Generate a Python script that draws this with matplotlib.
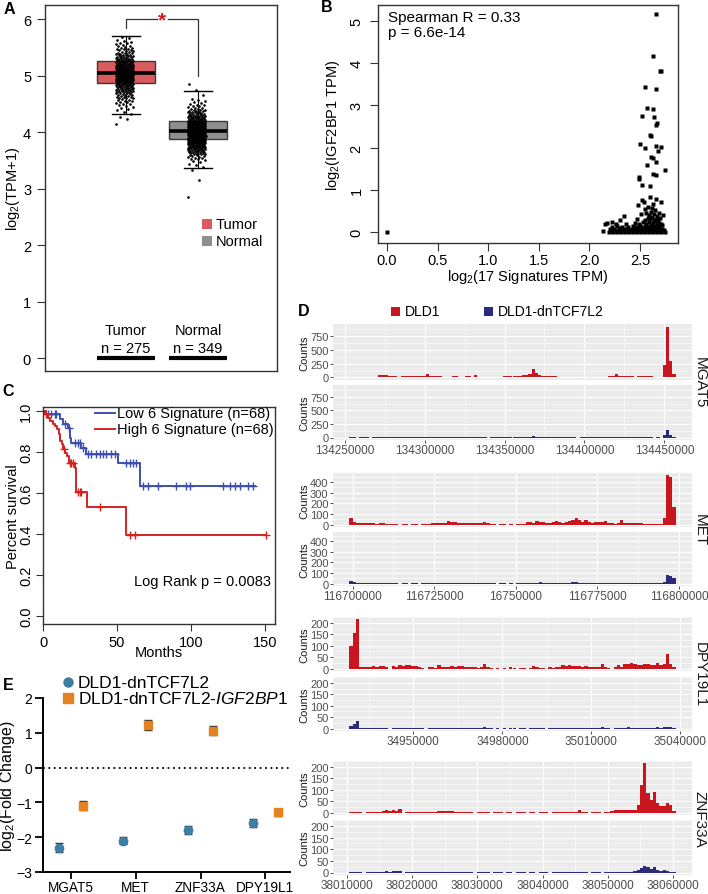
import matplotlib
matplotlib.use('Agg')
import matplotlib.pyplot as plt
import numpy as np
from matplotlib.lines import Line2D
from matplotlib.patches import Rectangle

plt.rcParams['font.family'] = ['Liberation Sans', 'DejaVu Sans']
plt.rcParams['mathtext.fontset'] = 'custom'
plt.rcParams['mathtext.rm'] = 'Liberation Sans'
plt.rcParams['mathtext.it'] = 'Liberation Sans:italic'
plt.rcParams['mathtext.bf'] = 'Liberation Sans:bold'
plt.rcParams['mathtext.default'] = 'regular'

# ======================= DATA =======================
# ---- Panel A: expression box plot ----
groups_A = ['Tumor', 'Normal']
n_A = [275, 349]
box_A = [[4.32, 4.87, 5.05, 5.25, 5.70],      # whislo, q1, median, q3, whishi
         [3.36, 3.87, 4.02, 4.20, 4.72]]
hist_bin_A = 0.1
tumor_hist_start = 4.1
tumor_hist = [1, 2, 3, 6, 10, 15, 22, 30, 38, 40, 36, 28, 20, 12, 8, 4]
normal_hist_start = 2.8
normal_hist = [1, 0, 0, 1, 0, 2, 4, 10, 22, 35, 50, 58, 55, 45, 30, 18, 10, 5, 1, 1, 1]

# ---- Panel B: correlation scatter ----
spearman_text = ['Spearman R = 0.33', 'p = 6.6e-14']
b_high_x = [2.66, 2.63, 2.70, 2.71, 2.55, 2.66, 2.57, 2.63, 2.52, 2.64, 2.67, 2.66, 2.60, 2.61,
            2.50, 2.55, 2.66, 2.71, 2.68, 2.61, 2.63, 2.66, 2.57, 2.75, 2.63, 2.66, 2.49, 2.49,
            2.52, 2.60, 2.60, 2.52, 2.54, 2.71, 2.66, 2.48, 2.63, 2.34, 2.17, 2.22, 2.73, 2.13, 0.00]
b_high_y = [5.17, 4.17, 3.81, 3.81, 3.43, 3.38, 2.94, 2.92, 2.75, 2.72, 2.59, 2.53, 2.31, 2.27,
            2.08, 1.99, 2.05, 2.02, 1.92, 1.77, 1.75, 1.66, 1.58, 1.48, 1.38, 1.34, 1.30, 1.26,
            1.12, 1.09, 0.83, 0.75, 0.71, 0.71, 0.79, 0.63, 0.67, 0.39, 0.21, 0.24, 0.41, 0.02, 0.00]
b_band = [(2.19, 0.01), (2.21, 0.03), (2.23, 0.0), (2.25, 0.02), (2.27, 0.01), (2.29, 0.03), (2.31, 0.0),
          (2.33, 0.02), (2.35, 0.01), (2.37, 0.03), (2.39, 0.0), (2.41, 0.02), (2.43, 0.01), (2.45, 0.03),
          (2.47, 0.0), (2.49, 0.02), (2.51, 0.01), (2.53, 0.03), (2.55, 0.0), (2.57, 0.02), (2.59, 0.01),
          (2.61, 0.03), (2.63, 0.0), (2.65, 0.02), (2.67, 0.01), (2.69, 0.03), (2.71, 0.0), (2.73, 0.02),
          (2.75, 0.01), (2.20, 0.06), (2.24, 0.08), (2.28, 0.05), (2.30, 0.09), (2.34, 0.06), (2.36, 0.08),
          (2.40, 0.05), (2.42, 0.07), (2.44, 0.09), (2.46, 0.06), (2.48, 0.08), (2.50, 0.05), (2.52, 0.07),
          (2.54, 0.09), (2.56, 0.06), (2.58, 0.08), (2.60, 0.05), (2.62, 0.07), (2.64, 0.09), (2.66, 0.06),
          (2.68, 0.08), (2.70, 0.05), (2.72, 0.07), (2.74, 0.04), (2.22, 0.12), (2.27, 0.14), (2.32, 0.11),
          (2.38, 0.13), (2.43, 0.15), (2.47, 0.12), (2.50, 0.14), (2.53, 0.11), (2.56, 0.16), (2.58, 0.13),
          (2.60, 0.11), (2.62, 0.15), (2.64, 0.12), (2.66, 0.14), (2.68, 0.11), (2.70, 0.13), (2.72, 0.16),
          (2.15, 0.18), (2.26, 0.20), (2.36, 0.18), (2.45, 0.22), (2.49, 0.19), (2.53, 0.24), (2.56, 0.20),
          (2.59, 0.23), (2.61, 0.18), (2.63, 0.21), (2.65, 0.25), (2.67, 0.19), (2.69, 0.22), (2.71, 0.18),
          (2.30, 0.29), (2.47, 0.30), (2.55, 0.28), (2.58, 0.33), (2.60, 0.30), (2.62, 0.35), (2.64, 0.28),
          (2.66, 0.32), (2.68, 0.29), (2.70, 0.34), (2.51, 0.42), (2.56, 0.46), (2.59, 0.40), (2.61, 0.48),
          (2.64, 0.43), (2.67, 0.38), (2.69, 0.45), (2.55, 0.55), (2.62, 0.58), (2.65, 0.53), (2.58, 0.60)]

# ---- Panel C: Kaplan-Meier ----
km_labels = ['Low 6 Signature (n=68)', 'High 6 Signature (n=68)']
low_t = [0, 2.3, 11.3, 13.5, 16.9, 18.0, 19.2, 25.9, 28.9, 50.8, 65.4]
low_s = [1.0, 0.985, 0.96, 0.935, 0.915, 0.87, 0.845, 0.82, 0.79, 0.745, 0.634]
low_end = 143.2
low_cens = [3.4, 5.6, 7.9, 9.0, 14.7, 17.4, 21.4, 23.7, 24.8, 27.0, 30.5, 32.7, 36.0, 38.3, 40.6,
            42.9, 46.2, 48.5, 56.4, 58.6, 60.9, 63.2, 67.7, 71.0, 77.8, 90.2, 97.0, 99.3, 121.8,
            126.3, 129.7, 133.1, 138.7, 142.1]
high_t = [0, 1.1, 3.4, 4.5, 6.8, 7.9, 9.5, 10.8, 11.7, 12.6, 13.5, 15.1, 16.2, 17.6, 21.4, 22.1,
          22.6, 29.8, 55.9]
high_s = [1.0, 0.984, 0.967, 0.951, 0.935, 0.927, 0.911, 0.886, 0.854, 0.837, 0.816, 0.797, 0.78,
          0.745, 0.724, 0.675, 0.605, 0.533, 0.397]
high_end = 151.1
high_cens = [2.3, 14.5, 18.0, 19.2, 20.3, 23.7, 24.8, 25.9, 38.3, 58.6, 62.0, 151.1]
logrank_text = 'Log Rank p = 0.0083'

# ---- Panel D: read count tracks ----
D_genes = ['MGAT5', 'MET', 'DPY19L1', 'ZNF33A']
D_legend = ['DLD1', 'DLD1-dnTCF7L2']
D_start = [134253000, 116699000, 34928400, 38010400]
D_binw = [2000, 1000, 1100, 500]
mgat5_dld1 = [12, 10, 0, 8, 10, 6, 0, 5, 15,
              40, 45, 42, 30,
              20, 18, 15, 20, 25, 22, 20, 18, 25, 20, 22,
              55,
              25, 20, 18, 22, 15, 12, 15, 18, 20, 15, 12, 18, 20, 15,
              45,
              15, 10, 12, 0, 8, 12, 15, 10,
              20, 25, 22, 25, 30, 35, 40, 50, 70,
              160,
              80, 45, 35, 30, 28, 25, 20,
              15, 12, 10, 15, 12, 10, 0, 8, 10, 12, 15, 10, 12, 10, 15, 12, 20, 25,
              55, 30,
              20, 22, 18, 20, 15, 22, 18, 20, 25, 22, 0, 10, 0,
              225, 920, 290, 60]
mgat5_dn = [4, 3, 0, 3, 4, 3, 0, 3, 5,
            6, 8, 7, 5,
            4, 4, 3, 4, 5, 4, 4, 3, 5, 4, 4,
            12,
            5, 4, 3, 5, 3, 3, 4, 4, 5, 3, 3, 4, 4, 3,
            8,
            3, 3, 3, 0, 3, 3, 4, 3,
            4, 5, 4, 5, 6, 6, 8, 8, 12,
            22,
            12, 8, 6, 6, 5, 5, 4,
            3, 3, 3, 3, 3, 3, 0, 3, 3, 3, 3, 3, 3, 3, 3, 3, 4, 5,
            14, 6,
            4, 5, 4, 4, 3, 5, 4, 4, 5, 5, 0, 3, 0,
            40, 140, 45, 10]
met_dld1 = [65, 20,
            15, 12, 12, 10, 12, 10, 8, 12, 10, 8, 6,
            5, 3, 0, 4, 2, 0, 3, 5, 0, 4, 3, 5,
            12, 15, 14, 12, 15,
            30, 28, 25,
            18, 15, 12, 14, 15, 12, 10, 18, 25, 12,
            5, 3, 0, 4, 2, 0, 3, 0, 2, 5, 4,
            20, 25, 15, 30, 28, 20, 18, 15, 20, 30,
            20, 18, 25, 35, 45, 60, 40, 20, 40,
            20, 18, 22, 25, 20, 30,
            10, 12, 8, 10, 40,
            15, 12, 15, 10, 12, 15,
            5, 4, 5, 3, 5, 8,
            65, 460, 450, 160]
met_dn = [25, 10,
          4, 3, 3, 3, 3, 3, 3, 3, 3, 3, 3,
          2, 2, 0, 2, 2, 0, 2, 2, 0, 2, 2, 2,
          4, 4, 5, 4, 5,
          8, 7, 6,
          4, 4, 3, 4, 4, 3, 3, 5, 6, 3,
          2, 2, 0, 2, 2, 0, 2, 0, 2, 3, 3,
          5, 6, 4, 8, 10, 6, 5, 4, 5, 7,
          5, 5, 6, 8, 10, 12, 8, 5, 8,
          5, 5, 6, 5, 5, 7,
          3, 3, 3, 3, 8,
          4, 3, 4, 3, 3, 4,
          2, 2, 2, 2, 3, 5,
          12, 80, 70, 55]
dpy_dld1 = [100, 155, 215,
            8, 8, 8, 8, 10, 8, 10,
            12, 5, 0, 10, 8,
            15, 12, 14, 15, 12, 10,
            5, 4, 0, 6, 5, 4,
            15,
            8, 6, 5, 10, 8, 10, 10, 8, 5, 6, 5, 4, 5,
            22,
            5, 4, 0, 3, 0, 4, 0, 5, 3, 0, 4, 3, 0, 4,
            10,
            5, 3, 4, 0, 5, 4, 6, 8,
            15, 12, 15, 12, 12, 10, 8, 10, 8, 8, 6, 8,
            22,
            5, 4, 0, 5,
            15,
            8, 20, 22,
            25, 20, 15, 15, 18, 18, 15, 15,
            25, 15, 20, 62, 20, 5]
dpy_dn = [10, 22, 32,
          3, 3, 3, 3, 3, 3, 3,
          3, 2, 0, 3, 3,
          4, 3, 3, 4, 3, 3,
          2, 2, 0, 2, 2, 2,
          4,
          2, 2, 2, 3, 2, 3, 3, 2, 2, 2, 2, 2, 2,
          5,
          2, 2, 0, 2, 0, 2, 0, 2, 2, 0, 2, 2, 0, 2,
          3,
          2, 2, 2, 0, 2, 2, 3, 3,
          4, 4, 4, 3, 3, 3, 3, 3, 3, 3, 3, 3,
          5,
          2, 2, 0, 2,
          4,
          3, 4, 5,
          4, 4, 3, 3, 4, 4, 3, 4,
          5, 4, 5, 8, 5, 2]
znf_dld1 = [3, 3, 4, 3, 0, 3, 3, 4, 3, 3,
            8, 10, 8, 9, 8, 16,
            0,
            3, 3, 4, 3, 3, 4, 3, 3, 3, 4,
            6, 8, 7, 6, 5,
            4, 4, 3, 4, 4, 3, 0, 3, 3, 3, 4, 0, 3, 3, 3, 0, 2, 3, 0, 3, 3, 4, 0, 3, 3,
            0, 3, 3, 3, 0, 3, 3, 3, 4, 3, 3, 3, 3,
            9,
            3, 3, 0, 3, 3, 3, 0, 3, 3,
            8, 10, 10, 12, 12, 10, 12,
            12, 35, 120, 215, 85, 55, 90, 40, 28, 30, 40, 35, 5]
znf_dn = [2, 2, 2, 2, 0, 2, 2, 2, 2, 2,
          4, 5, 4, 6, 5, 7,
          0,
          2, 2, 2, 2, 2, 2, 2, 2, 2, 2,
          3, 4, 3, 3, 3,
          2, 2, 2, 2, 2, 2, 0, 2, 2, 2, 2, 0, 2, 2, 2, 0, 2, 2, 0, 2, 2, 2, 0, 2, 2,
          0, 2, 2, 2, 0, 2, 2, 2, 2, 2, 2, 2, 2,
          4,
          2, 2, 0, 2, 2, 2, 0, 2, 2,
          3, 3, 3, 4, 4, 3, 4,
          5, 12, 20, 28, 22, 15, 25, 12, 8, 10, 6, 4, 2]
D_dld1 = [mgat5_dld1, met_dld1, dpy_dld1, znf_dld1]
D_dn = [mgat5_dn, met_dn, dpy_dn, znf_dn]
D_xticks = [[134250000, 134300000, 134350000, 134400000, 134450000],
            [116700000, 116725000, 116750000, 116775000, 116800000],
            [34950000, 34980000, 35010000, 35040000],
            [38010000, 38020000, 38030000, 38040000, 38050000, 38060000]]
D_xticklabels = [['134250000', '134300000', '134350000', '134400000', '134450000'],
                 ['116700000', '116725000', '16750000', '116775000', '116800000'],
                 ['34950000', '34980000', '35010000', '35040000'],
                 ['38010000', '38020000', '38030000', '38040000', '38050000', '38060000']]
D_yticks = [[0, 250, 500, 750], [0, 100, 200, 300, 400], [0, 50, 100, 150, 200], [0, 50, 100, 150, 200]]

# ---- Panel E: fold change ----
genes_E = ['MGAT5', 'MET', 'ZNF33A', 'DPY19L1']
E_labels = ['DLD1-dnTCF7L2', r'DLD1-dnTCF7L2-$\it{IGF2BP1}$']
dn_fc = [-2.3, -2.1, -1.8, -1.6]
dn_err = [0.13, 0.10, 0.11, 0.12]
igf_fc = [-1.1, 1.22, 1.06, -1.29]
igf_err = [0.13, 0.15, 0.13, 0.11]

# ======================= FIGURE =======================
W, H = 708, 895
fig = plt.figure(figsize=(W / 100, H / 100), dpi=100)


def rect(l, t, r, b):
    return [l / W, 1 - b / H, (r - l) / W, (b - t) / H]


def fx(x):
    return x / W


def fy(y):
    return 1 - y / H


def ylabel_at(ax, xpx):
    pos = ax.get_position()
    ax.yaxis.label.set_va('center')
    ax.yaxis.set_label_coords(fx(xpx), (pos.y0 + pos.y1) / 2, transform=fig.transFigure)


def xlabel_at(ax, ypx):
    pos = ax.get_position()
    ax.xaxis.label.set_va('center')
    ax.xaxis.set_label_coords((pos.x0 + pos.x1) / 2, fy(ypx), transform=fig.transFigure)


def panel_letter(x, y, s):
    fig.text(fx(x), fy(y), s, fontsize=11.5, fontweight='bold', ha='center', va='center')


frame_col = '#333333'

# ---------------- Panel A ----------------
axA = fig.add_axes(rect(45, 6, 277, 372))
tumor_col, normal_col = '#d95b60', '#8e8e8e'
stats = [dict(whislo=s[0], q1=s[1], med=s[2], q3=s[3], whishi=s[4], fliers=[]) for s in box_A]
bp = axA.bxp(stats, positions=[1, 2], widths=0.8, patch_artist=True, showfliers=False, capwidths=0.4,
             boxprops=dict(edgecolor='#3a3a3a', linewidth=1.0),
             medianprops=dict(color='black', linewidth=2.6, zorder=5),
             whiskerprops=dict(color='black', linewidth=0.8),
             capprops=dict(color='black', linewidth=1.0))
for patch, c in zip(bp['boxes'], [tumor_col, normal_col]):
    patch.set_facecolor(c)

golden = 0.6180339887
for pos, start, counts in [(1, tumor_hist_start, tumor_hist), (2, normal_hist_start, normal_hist)]:
    xs, ys = [], []
    i = 0
    for b, c in enumerate(counts):
        for k in range(c):
            ys.append(start + b * hist_bin_A + (k + 0.5) / c * hist_bin_A)
            xs.append(pos - 0.02 + 0.125 * (2 * ((i * golden) % 1) - 1))
            i += 1
    axA.plot(xs, ys, 'o', ms=1.9, color='black', mec='none', zorder=3)

# significance bracket
axA.plot([1, 1, 1.43], [5.84, 6.0, 6.0], color='#333333', lw=0.9)
axA.plot([1.58, 2, 2], [6.0, 6.0, 4.99], color='#333333', lw=0.9)
axA.text(1.505, 5.98, '*', color='#d7191c', fontsize=15, ha='center', va='center', fontweight='bold')

for pos in [1, 2]:
    axA.plot([pos - 0.4, pos + 0.4], [0, 0], color='black', lw=3, solid_capstyle='butt')

axA.set_xticks([])
axA.set_yticks(range(0, 7))
axA.set_xlim(-0.125, 3.097)
axA.set_ylim(-0.23, 6.25)
axA.tick_params(axis='y', labelsize=10.5, length=6, width=0.8, color=frame_col, pad=4)
for sp in axA.spines.values():
    sp.set_color(frame_col)
    sp.set_linewidth(1.0)
axA.set_ylabel(r'log$_2$(TPM+1)', fontsize=10.5)
ylabel_at(axA, 13)

for x, g, n in [(126, groups_A[0], n_A[0]), (198, groups_A[1], n_A[1])]:
    fig.text(fx(x), fy(331), g, fontsize=10.5, ha='center', va='center')
    fig.text(fx(x), fy(349), 'n = %d' % n, fontsize=10.5, ha='center', va='center')

for yy, c, g in [(225, tumor_col, groups_A[0]), (242, normal_col, groups_A[1])]:
    fig.add_artist(Rectangle((fx(202), fy(yy + 5)), 10 / W, 10 / H, transform=fig.transFigure,
                             facecolor=c, edgecolor='none'))
    fig.text(fx(216), fy(yy), g, fontsize=10.5, ha='left', va='center')
panel_letter(9, 9, 'A')

# ---------------- Panel B ----------------
axB = fig.add_axes(rect(378, 6, 678, 244))
bx = list(b_high_x) + [p[0] for p in b_band]
by = list(b_high_y) + [p[1] for p in b_band]
axB.plot(bx, by, 's', ms=2.3, color='black', mec='none')
axB.set_xticks([0, 0.5, 1.0, 1.5, 2.0, 2.5])
axB.set_xticklabels(['0.0', '0.5', '1.0', '1.5', '2.0', '2.5'])
axB.set_yticks(range(0, 6))
axB.set_xlim(-0.089, 2.875)
axB.set_ylim(-0.26, 5.38)
axB.tick_params(axis='both', labelsize=10.5, length=5.5, width=0.8, color=frame_col)
axB.tick_params(axis='x', pad=2)
axB.tick_params(axis='y', pad=5, labelrotation=90)
for tl in axB.get_yticklabels():
    tl.set_va('center')
for sp in axB.spines.values():
    sp.set_color(frame_col)
    sp.set_linewidth(1.0)
axB.set_xlabel(r'log$_2$(17 Signatures TPM)', fontsize=10.5)
axB.set_ylabel(r'log$_2$(IGF2BP1 TPM)', fontsize=10.5)
xlabel_at(axB, 277)
ylabel_at(axB, 333)
fig.text(fx(388), fy(18), spearman_text[0], fontsize=11, ha='left', va='center')
fig.text(fx(388), fy(33), spearman_text[1], fontsize=11, ha='left', va='center')
panel_letter(327, 8, 'B')

# ---------------- Panel C ----------------
axC = fig.add_axes(rect(43, 408, 275, 625))
low_col, high_col = '#3d4fae', '#d42222'


def surv_at(ts, ss, t):
    idx = np.searchsorted(ts, t, side='right') - 1
    return ss[idx]


for ts, ss, end, cens, col in [(low_t, low_s, low_end, low_cens, low_col),
                               (high_t, high_s, high_end, high_cens, high_col)]:
    axC.step(list(ts) + [end], list(ss) + [ss[-1]], where='post', color=col, lw=1.4)
    cy = [surv_at(ts, ss, t) for t in cens]
    axC.plot(cens, cy, '+', color=col, ms=6, mew=1.0)

axC.set_xticks([0, 50, 100, 150])
axC.set_yticks([0.0, 0.2, 0.4, 0.6, 0.8, 1.0])
axC.set_yticklabels(['0.0', '0.2', '0.4', '0.6', '0.8', '1.0'])
axC.set_xlim(0, 157)
axC.set_ylim(-0.04, 1.02)
axC.tick_params(axis='both', labelsize=10.5, length=5, width=0.8, color=frame_col)
axC.tick_params(axis='y', labelrotation=90, pad=2)
axC.tick_params(axis='x', pad=3)
for tl in axC.get_yticklabels():
    tl.set_va('center')
for sp in axC.spines.values():
    sp.set_color(frame_col)
    sp.set_linewidth(1.0)
axC.set_xlabel('Months', fontsize=10.5)
axC.set_ylabel('Percent survival', fontsize=10.5)
xlabel_at(axC, 653)
ylabel_at(axC, 13)
for yy, col, lab in [(414, low_col, km_labels[0]), (430, high_col, km_labels[1])]:
    fig.add_artist(Line2D([fx(95), fx(115)], [fy(yy), fy(yy)], color=col, lw=1.4,
                          transform=fig.transFigure))
    fig.text(fx(117), fy(yy), lab, fontsize=10.5, ha='left', va='center')
fig.text(fx(271), fy(582), logrank_text, fontsize=10.5, ha='right', va='center')
panel_letter(8, 392, 'C')

# ---------------- Panel D ----------------
red_col, navy_col = '#c9151e', '#2b2a7c'
D_rows = [((325, 381), (386, 441)), ((474, 528), (533, 587)),
          ((618, 672), (678, 732)), ((762, 816), (821, 876))]
for gi, gene in enumerate(D_genes):
    start, bw = D_start[gi], D_binw[gi]
    tracks = [D_dld1[gi], D_dn[gi]]
    nb = max(len(t) for t in tracks)
    x_lo, x_hi = start, start + nb * bw
    rng = x_hi - x_lo
    ymax = max(max(t) for t in tracks)
    ticks = D_xticks[gi]
    step = ticks[1] - ticks[0]
    minor_x = [ticks[0] - step / 2 + k * step for k in range(len(ticks) + 2)]
    ystep = D_yticks[gi][1] - D_yticks[gi][0]
    minor_y = [D_yticks[gi][0] + ystep / 2 + k * ystep for k in range(len(D_yticks[gi]))]
    for ti, (counts, col) in enumerate(zip(tracks, [red_col, navy_col])):
        (t, b) = D_rows[gi][ti]
        ax = fig.add_axes(rect(333, t, 692, b))
        ax.set_facecolor('#ebebeb')
        edges = [start + k * bw for k in range(len(counts))]
        ax.bar(edges, counts, width=bw, align='edge', color=col, linewidth=0, zorder=3)
        ax.set_xticks(ticks)
        ax.set_xticks(minor_x, minor=True)
        ax.set_yticks(D_yticks[gi])
        ax.set_yticks(minor_y, minor=True)
        ax.set_xlim(x_lo - 0.05 * rng, x_hi + 0.05 * rng)
        ax.set_ylim(-0.05 * ymax, 1.05 * ymax)
        ax.grid(which='major', color='white', lw=0.8, zorder=0)
        ax.grid(which='minor', color='white', lw=0.4, zorder=0)
        ax.set_axisbelow(True)
        for sp in ax.spines.values():
            sp.set_visible(False)
        ax.tick_params(which='minor', length=0)
        ax.tick_params(axis='y', labelsize=8, length=2.2, width=0.6, color='#333333',
                       labelcolor='#4d4d4d', pad=1)
        if ti == 1:
            ax.set_xticklabels(D_xticklabels[gi])
            ax.tick_params(axis='x', labelsize=8.5, length=2.2, width=0.6, color='#333333',
                           labelcolor='#4d4d4d', pad=1)
        else:
            ax.tick_params(axis='x', length=0, labelbottom=False)
        fig.text(fx(304), fy((t + b) / 2), 'Counts', fontsize=8, rotation=90, ha='center',
                 va='center', color='#1a1a1a')
    yc = (D_rows[gi][0][0] + D_rows[gi][1][1]) / 2
    fig.text(fx(700), fy(yc), gene, fontsize=11, rotation=-90, ha='center', va='center',
             color='#1a1a1a')

for xs, col, lab in [(395, red_col, D_legend[0]), (488, navy_col, D_legend[1])]:
    fig.add_artist(Rectangle((fx(xs - 4.5), fy(312 + 4.5)), 9 / W, 9 / H, transform=fig.transFigure,
                             facecolor=col, edgecolor='none'))
    fig.text(fx(xs + 10), fy(312), lab, fontsize=10, ha='left', va='center')
panel_letter(304, 311, 'D')

# ---------------- Panel E ----------------
axE = fig.add_axes(rect(43, 699, 290, 873))
blue_col, orange_col = '#3e7ea3', '#e6811f'
xpos = np.arange(len(genes_E))
axE.axhline(0, color='black', lw=1.3, ls=(0, (1, 2)), zorder=1)
axE.errorbar(xpos - 0.19, dn_fc, yerr=dn_err, fmt='o', ms=6, color=blue_col, mec=blue_col,
             ecolor='#333333', elinewidth=1.0, capsize=3, capthick=1.0, zorder=3, clip_on=False)
axE.errorbar(xpos + 0.19, igf_fc, yerr=igf_err, fmt='s', ms=6, color=orange_col, mec=orange_col,
             ecolor='#333333', elinewidth=1.0, capsize=3, capthick=1.0, zorder=3, clip_on=False)
axE.set_xticks(xpos)
axE.set_xticklabels(genes_E)
axE.set_yticks([2, 1, 0, -1, -2, -3])
axE.set_xlim(-0.43, 3.38)
axE.set_ylim(-3, 2)
axE.spines['top'].set_visible(False)
axE.spines['right'].set_visible(False)
axE.spines['left'].set_linewidth(1.4)
axE.spines['bottom'].set_linewidth(1.4)
axE.tick_params(axis='y', labelsize=10, length=6, width=1.3, pad=1.5)
axE.tick_params(axis='x', labelsize=9.8, length=5, width=1.3, pad=0.5)
axE.set_ylabel(r'log$_2$(Fold Change)', fontsize=11.5)
ylabel_at(axE, 8)
fig.add_artist(Line2D([fx(68)], [fy(683)], marker='o', ms=6.5, color=blue_col, ls='none',
                      transform=fig.transFigure))
fig.add_artist(Line2D([fx(68)], [fy(699)], marker='s', ms=6.5, color=orange_col, ls='none',
                      transform=fig.transFigure))
fig.text(fx(78), fy(683), E_labels[0], fontsize=12.5, ha='left', va='center')
fig.text(fx(78), fy(699), E_labels[1], fontsize=12.5, ha='left', va='center')
panel_letter(8, 686, 'E')

fig.savefig('out.png', dpi=100)
